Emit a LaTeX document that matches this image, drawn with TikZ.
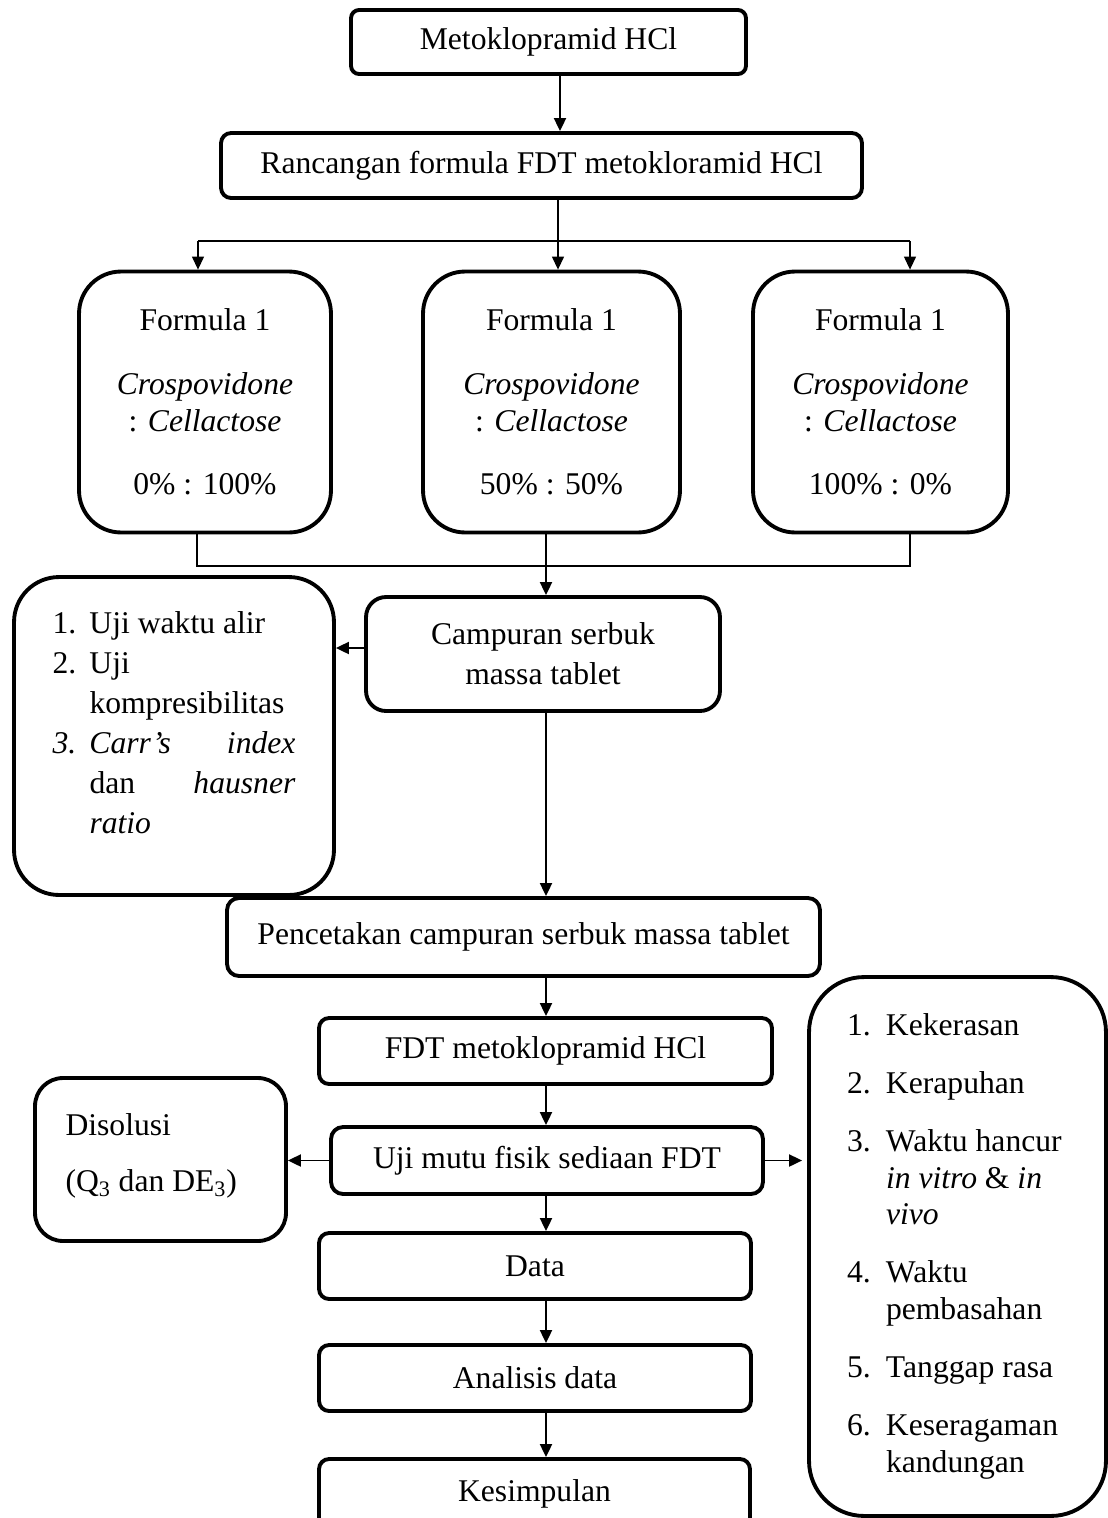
\documentclass[tikz,border=0pt]{standalone}
\usepackage{fontspec}
\setmainfont{Liberation Serif}
\usepackage{tikz}
\usetikzlibrary{arrows.meta}

\tikzset{
	kotak/.style={draw, line width=2.2pt, align=center, inner sep=0pt,
		font=\fontsize{18}{21}\selectfont},
	panah/.style={line width=1.1pt, -{Triangle[length=0.26cm,width=0.24cm]}},
	garis/.style={line width=0.7pt},
	panahtipis/.style={garis, -{Triangle[length=0.26cm,width=0.24cm]}}
}

\begin{document}
\begin{tikzpicture}[x=0.02cm, y=-0.02cm]
				\useasboundingbox (0,0) rectangle (1108,1518);

				% sumbu panah utama
				\coordinate (sumbuatas) at (560,0);
				\coordinate (sumbu) at (546,0);

				% kotak bahan
				\node[kotak, rounded corners=0.16cm, minimum width=7.9cm, minimum height=1.28cm] (bahan) at (548.5,42) {Metoklopramid HCl};

				% kotak rancangan formula
				\node[kotak, rounded corners=0.2cm, minimum width=12.82cm, minimum height=1.3cm] (rancangan) at (541.5,165.5) {Rancangan formula FDT metokloramid HCl};

				% tiga formula
				\node[kotak, rounded corners=0.84cm, minimum width=5.04cm, minimum height=5.22cm] (formA) at (205,402)
					{Formula 1\\[0.54cm]\textit{Crospovidone}\\: \textit{Cellactose}\\[0.52cm]0\% : 100\%};
				\node[kotak, rounded corners=0.84cm, minimum width=5.14cm, minimum height=5.22cm] (formB) at (551.5,402)
					{Formula 1\\[0.54cm]\textit{Crospovidone}\\: \textit{Cellactose}\\[0.52cm]50\% : 50\%};
				\node[kotak, rounded corners=0.84cm, minimum width=5.1cm, minimum height=5.22cm] (formC) at (880.5,402)
					{Formula 1\\[0.54cm]\textit{Crospovidone}\\: \textit{Cellactose}\\[0.52cm]100\% : 0\%};

				% campuran serbuk
				\node[kotak, rounded corners=0.4cm, minimum width=7.08cm, minimum height=2.28cm] (campuran) at (543,654)
					{Campuran serbuk\\[0.06cm]massa tablet};

				% uji serbuk
				\node[kotak, rounded corners=0.9cm, minimum width=6.4cm, minimum height=6.36cm,
					font=\fontsize{18}{22.7}\selectfont] (ujiserbuk) at (174,736)
					{\begin{tabular}{@{}p{0.74cm}@{}p{4.12cm}@{}}
						1. & Uji waktu alir\\
						2. & Uji\\
						 & kompresibilitas\\
						\textit{3.} & \makebox[4.12cm][s]{\textit{Carr's} \textit{index}}\\
						 & \makebox[4.12cm][s]{dan \textit{hausner}}\\
						 & \textit{ratio}\\[0.42cm]
					\end{tabular}};

				% pencetakan
				\node[kotak, rounded corners=0.24cm, minimum width=11.86cm, minimum height=1.56cm] (cetak) at (523.5,937)
					{Pencetakan campuran serbuk massa tablet};

				% FDT
				\node[kotak, rounded corners=0.2cm, minimum width=9.06cm, minimum height=1.32cm] (fdt) at (545.5,1051) {FDT metoklopramid HCl};

				% uji mutu fisik
				\node[kotak, rounded corners=0.24cm, minimum width=8.64cm, minimum height=1.34cm] (ujimutu) at (547,1160.5) {Uji mutu fisik sediaan FDT};

				% disolusi
				\node[kotak, rounded corners=0.56cm, minimum width=5.02cm, minimum height=3.26cm, text width=3.8cm, align=flush left] (disolusi) at (160.5,1159.5)
					{Disolusi\\[0.4cm](Q\textsubscript{3} dan DE\textsubscript{3})\rule[-0.28cm]{0pt}{0pt}};

				% data, analisis, kesimpulan
				\node[kotak, rounded corners=0.2cm, minimum width=8.64cm, minimum height=1.32cm] (data) at (535,1266) {Data};
				\node[kotak, rounded corners=0.2cm, minimum width=8.64cm, minimum height=1.32cm] (analisis) at (535,1378) {Analisis data};
				\node[kotak, rounded corners=0.2cm, minimum width=8.62cm, minimum height=1.4cm] (simpulan) at (534.5,1494) {Kesimpulan};

				% hasil uji mutu
				\node[kotak, rounded corners=1.1cm, minimum width=5.94cm, minimum height=10.78cm] (hasil) at (957.5,1246.5)
					{\begin{tabular}{@{}p{0.78cm}@{}p{3.64cm}@{}}
						1. & Kekerasan\\[0.42cm]
						2. & Kerapuhan\\[0.42cm]
						3. & Waktu hancur\\
						 & \textit{in vitro} \& \textit{in}\\
						 & \textit{vivo}\\[0.42cm]
						4. & Waktu\\
						 & pembasahan\\[0.42cm]
						5. & Tanggap rasa\\[0.42cm]
						6. & Keseragaman\\
						 & kandungan
					\end{tabular}};

				% panah bahan -> rancangan
				\draw[panah] (bahan.south -| sumbuatas) -- (rancangan.north -| sumbuatas);

				% percabangan ke formula
				\coordinate (cabang) at (558,241);
				\coordinate (cabA) at (198,241);
				\coordinate (cabC) at (910,241);
				\draw[garis] (rancangan.south -| cabang) -- (cabang);
				\draw[garis] (cabA) -- (cabC);
				\draw[panahtipis] (cabA) -- (cabA |- formA.north);
				\draw[panahtipis] (cabang) -- (cabang |- formB.north);
				\draw[panahtipis] (cabC) -- (cabC |- formC.north);

				% gabungan formula -> campuran
				\coordinate (gabA) at (197,566);
				\coordinate (gabC) at (910,566);
				\draw[garis] (gabA |- formA.south) -- (gabA) -- (gabC) -- (gabC |- formC.south);
				\draw[panah] (formB.south -| sumbu) -- (campuran.north -| sumbu);

				% campuran -> uji serbuk
				\draw[panah] ([yshift=0.12cm]campuran.west) -- ([yshift=0.12cm]campuran.west -| ujiserbuk.east);

				% alur utama ke bawah
				\draw[panah] (campuran.south -| sumbu) -- (cetak.north -| sumbu);
				\draw[panah] (cetak.south -| sumbu) -- (fdt.north -| sumbu);
				\draw[panah] (fdt.south -| sumbu) -- (ujimutu.north -| sumbu);
				\draw[panah] (ujimutu.south -| sumbu) -- (data.north -| sumbu);
				\draw[panah] (data.south -| sumbu) -- (analisis.north -| sumbu);
				\draw[panah] (analisis.south -| sumbu) -- (simpulan.north -| sumbu);

				% uji mutu -> disolusi dan hasil
				\draw[panah] (ujimutu.west) -- (ujimutu.west -| disolusi.east);
				\draw[panah, shorten >=0.1cm] (ujimutu.east) -- (ujimutu.east -| hasil.west);
\end{tikzpicture}
\end{document}
